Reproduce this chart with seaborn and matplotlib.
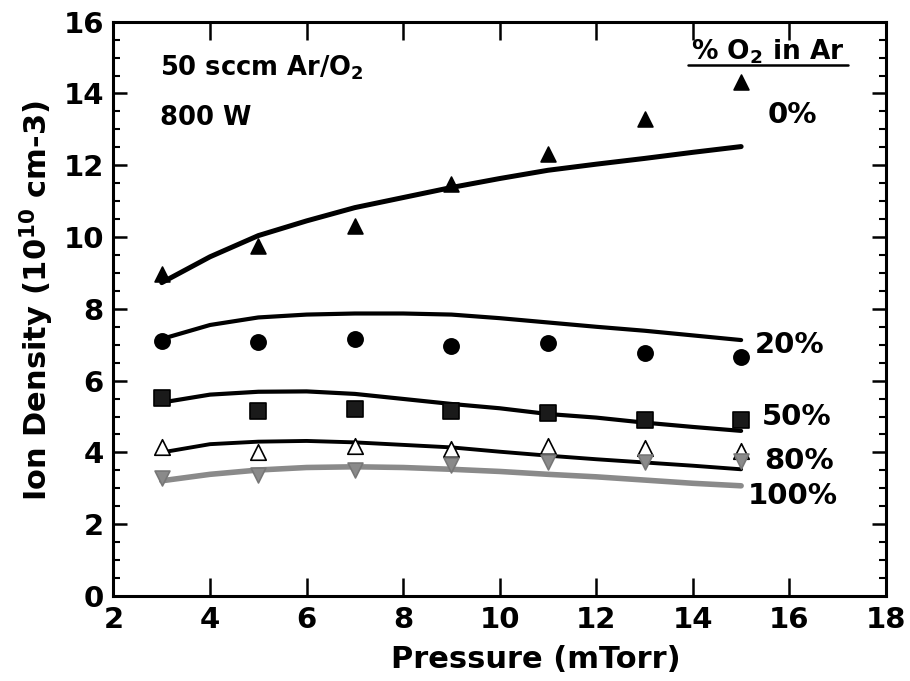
import numpy as np
import pandas as pd
import matplotlib
matplotlib.use("Agg")
import matplotlib.pyplot as plt
import seaborn as sns
from matplotlib.ticker import MultipleLocator

# measured points (pressure in mTorr)
pressure = [3, 5, 7, 9, 11, 13, 15]
o2_0 = [8.98, 9.76, 10.32, 11.49, 12.30, 13.28, 14.31]
o2_20 = [7.11, 7.07, 7.16, 6.97, 7.04, 6.76, 6.65]
o2_50 = [5.52, 5.16, 5.21, 5.14, 5.11, 4.90, 4.90]
o2_80 = [4.16, 4.00, 4.18, 4.09, 4.18, 4.12, 4.03]
o2_100 = [3.30, 3.37, 3.51, 3.65, 3.72, 3.72, 3.75]

# model curves
p_fit = [3, 4, 5, 6, 7, 8, 9, 10, 11, 12, 13, 14, 15]
fit_0 = [8.73, 9.45, 10.04, 10.45, 10.82, 11.10, 11.38, 11.63, 11.86, 12.03, 12.19, 12.36, 12.52]
fit_20 = [7.16, 7.55, 7.76, 7.84, 7.87, 7.87, 7.84, 7.74, 7.62, 7.50, 7.39, 7.26, 7.13]
fit_50 = [5.39, 5.61, 5.69, 5.70, 5.63, 5.49, 5.35, 5.23, 5.07, 4.97, 4.83, 4.71, 4.60]
fit_80 = [4.00, 4.23, 4.30, 4.32, 4.28, 4.21, 4.14, 4.02, 3.91, 3.81, 3.72, 3.63, 3.53]
fit_100 = [3.21, 3.39, 3.51, 3.58, 3.60, 3.58, 3.53, 3.47, 3.39, 3.32, 3.23, 3.14, 3.07]

labels = ["0%", "20%", "50%", "80%", "100%"]
label_x = [15.54, 15.29, 15.43, 15.47, 15.14]
label_y = [13.19, 6.78, 4.77, 3.54, 2.57]

sns.set_style("ticks")
plt.rcParams['font.family'] = ['DejaVu Sans']
plt.rcParams['font.weight'] = 'bold'
plt.rcParams['mathtext.fontset'] = 'custom'
plt.rcParams['mathtext.rm'] = 'DejaVu Sans:bold'
plt.rcParams['mathtext.default'] = 'rm'
for k in ['text.color', 'axes.labelcolor', 'xtick.color', 'ytick.color', 'axes.edgecolor']:
    plt.rcParams[k] = 'black'

fig = plt.figure(figsize=(9.1, 6.81), dpi=100)
ax = fig.add_axes([0.1247, 0.1248, 0.8489, 0.8434])

pts = [o2_0, o2_20, o2_50, o2_80, o2_100]
fits = [fit_0, fit_20, fit_50, fit_80, fit_100]
line_col = ["black", "black", "black", "black", "#8a8a8a"]
line_w = [3.6, 3.0, 3.0, 2.8, 4.0]
markers = ["^", "o", "s", "^", "v"]
face = ["black", "black", "#1a1a1a", "white", "#8a8a8a"]
edge = ["black", "black", "black", "black", "#777777"]
sizes = [115, 120, 120, 125, 115]

for i in range(5):
    sns.lineplot(x=p_fit, y=fits[i], ax=ax, color=line_col[i],
                 linewidth=line_w[i], zorder=2, legend=False)
for i in range(5):
    sns.scatterplot(x=pressure, y=pts[i], ax=ax, marker=markers[i], s=sizes[i],
                    color=face[i], edgecolor=edge[i], linewidth=1.2,
                    zorder=3 + i, legend=False)

for lab, xx, yy in zip(labels, label_x, label_y):
    ax.text(xx, yy, lab, fontsize=21, fontweight='bold', ha='left', va='baseline')

ax.text(0.060, 0.907, "50 sccm Ar/O$_2$", transform=ax.transAxes,
        fontsize=18.5, fontweight='bold', ha='left', va='baseline')
ax.text(0.060, 0.820, "800 W", transform=ax.transAxes,
        fontsize=18.5, fontweight='bold', ha='left', va='baseline')
ax.text(0.847, 0.934, "% O$_2$ in Ar", transform=ax.transAxes,
        fontsize=19, fontweight='bold', ha='center', va='baseline')
ax.plot([0.744, 0.951], [0.925, 0.925], transform=ax.transAxes,
        color='black', linewidth=1.8, clip_on=False)

ax.set_xlim(2, 18)
ax.set_ylim(0, 16)
ax.xaxis.set_major_locator(MultipleLocator(2))
ax.yaxis.set_major_locator(MultipleLocator(2))
ax.yaxis.set_minor_locator(MultipleLocator(0.5))
ax.tick_params(axis='x', which='major', direction='in', length=13, width=1.8,
               top=True, labelsize=21, pad=7)
ax.tick_params(axis='y', which='major', direction='in', length=10, width=1.8,
               right=True, labelsize=21, pad=7)
ax.tick_params(axis='y', which='minor', direction='in', length=5, width=1.5,
               right=True)
for lab in ax.get_xticklabels() + ax.get_yticklabels():
    lab.set_fontweight('bold')
for sp in ax.spines.values():
    sp.set_linewidth(2.2)
    sp.set_visible(True)

ax.set_xlabel("Pressure (mTorr)", fontsize=22, fontweight='bold')
ax.set_ylabel("Ion Density (10$^{10}$ cm-3)", fontsize=22, fontweight='bold')
ax.xaxis.set_label_coords(0.547, -0.085)
ax.yaxis.set_label_coords(-0.075, 0.515)

fig.savefig("out.png", dpi=100)
